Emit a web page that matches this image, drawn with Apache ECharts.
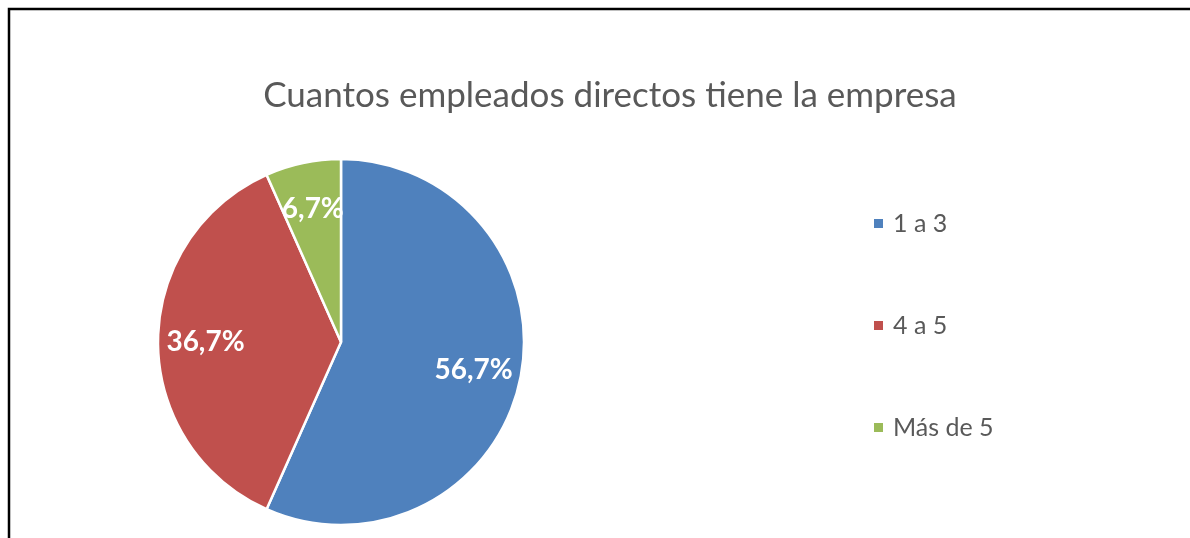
<!DOCTYPE html>
<html>
<head>
<meta charset="utf-8">
<script src="https://cdn.jsdelivr.net/npm/echarts@6/dist/echarts.min.js"></script>
<style>
  html, body { margin: 0; padding: 0; background: #fff; }
  #chart { width: 1190px; height: 538px; }
</style>
</head>
<body>
<div id="chart"></div>
<script>
const titleText = "Cuantos empleados directos tiene la empresa";
const categories = ["1 a 3", "4 a 5", "Más de 5"];
const counts = [17, 11, 2];
const colors = ["#4F81BD", "#C0504D", "#9BBB59"];

const total = counts.reduce((a, b) => a + b, 0);
const pieData = categories.map((name, i) => ({
  name,
  value: counts[i],
  itemStyle: { color: colors[i] }
}));

const chart = echarts.init(document.getElementById("chart"));

chart.setOption({
  animation: false,
  title: {
    text: titleText,
    left: 605,
    textAlign: "center",
    top: 73,
    textStyle: {
      fontFamily: "Lato",
      fontWeight: "normal",
      fontSize: 35,
      color: "#595959"
    }
  },
  legend: {
    orient: "vertical",
    left: 872,
    top: 211,
    padding: 0,
    icon: "rect",
    itemWidth: 11,
    itemHeight: 11,
    itemGap: 77,
    data: categories,
    textStyle: {
      fontFamily: "Lato",
      fontSize: 25,
      lineHeight: 24,
      color: "#595959",
      padding: [0, 0, 0, 4]
    }
  },
  graphic: [{
    type: "polyline",
    shape: { points: [[9, 538], [9, 9], [1190, 9]] },
    style: { stroke: "#000", lineWidth: 2.5, fill: null }
  }],
  series: [
    {
      type: "pie",
      center: [341, 342],
      radius: [0, 183],
      startAngle: 90,
      clockwise: true,
      silent: true,
      label: { show: false },
      labelLine: { show: false },
      itemStyle: { borderColor: "#fff", borderWidth: 2.5 },
      data: pieData
    },
    {
      // label carrier: transparent ring so labels sit at ~0.72 r
      type: "pie",
      center: [341, 342],
      radius: [82, 183],
      startAngle: 90,
      clockwise: true,
      silent: true,
      legendHoverLink: false,
      itemStyle: { color: "transparent", borderWidth: 0 },
      label: {
        show: true,
        position: "inside",
        formatter: p => (p.value / total * 100).toFixed(1).replace(".", ",") + "%",
        fontFamily: "Lato",
        fontWeight: "bold",
        fontSize: 28,
        color: "#fff"
      },
      labelLine: { show: false },
      data: categories.map((name, i) => ({ name: name + " ", value: counts[i] }))
    }
  ]
});
</script>
</body>
</html>
